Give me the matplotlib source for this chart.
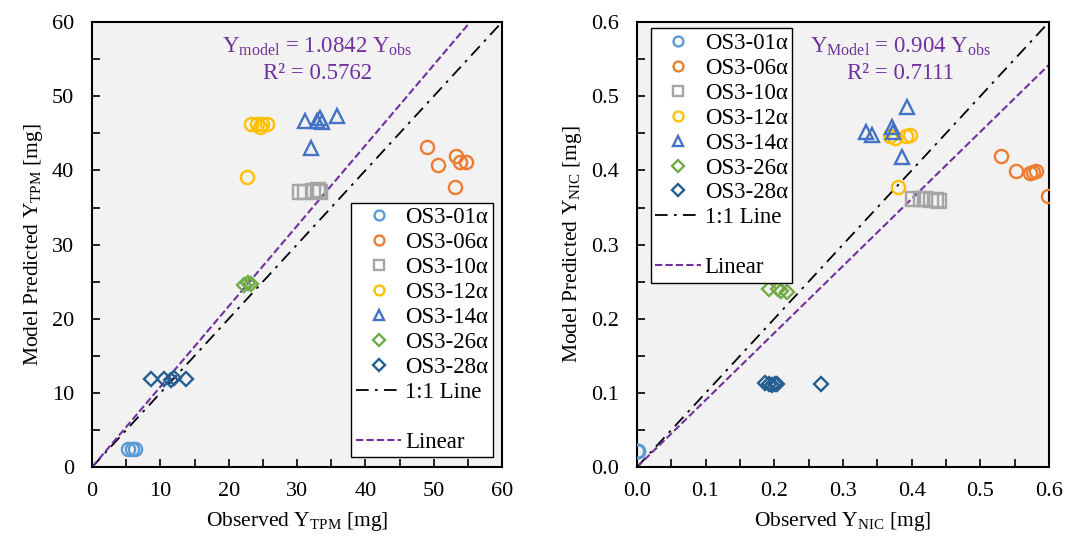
import numpy as np
import matplotlib.pyplot as plt
from matplotlib.lines import Line2D
from matplotlib.ticker import MultipleLocator

plt.rcParams['font.family'] = ['Liberation Serif', 'DejaVu Serif']
plt.rcParams['mathtext.fontset'] = 'custom'
plt.rcParams['mathtext.rm'] = 'Liberation Serif'
plt.rcParams['mathtext.it'] = 'Liberation Serif:italic'

names = ['OS3-01α', 'OS3-06α', 'OS3-10α', 'OS3-12α', 'OS3-14α', 'OS3-26α', 'OS3-28α']
markers = ['o', 'o', 's', 'o', '^', 'D', 'D']
colors = ['#5B9BD5', '#ED7D31', '#A5A5A5', '#FFC000', '#4472C4', '#70AD47', '#255E91']

# TPM panel (observed, predicted)
tpm_obs = [
    [5.3, 5.8, 6.3],
    [49.0, 50.7, 53.2, 53.9, 54.7, 53.1],
    [30.5, 31.2, 32.4, 33.0, 33.4],
    [22.7, 23.3, 24.2, 24.6, 24.9, 25.6],
    [31.2, 32.1, 32.9, 33.4, 33.6, 35.9],
    [22.3, 22.8, 23.2],
    [8.6, 10.6, 11.6, 12.0, 13.8],
]
tpm_pred = [
    [2.5, 2.5, 2.5],
    [43.2, 40.7, 41.9, 41.2, 41.1, 37.8],
    [37.1, 37.1, 37.2, 37.3, 37.1],
    [39.1, 46.2, 46.3, 45.9, 46.2, 46.3],
    [46.6, 43.0, 46.6, 47.1, 46.5, 47.4],
    [24.5, 24.8, 24.7],
    [11.9, 11.9, 11.8, 12.0, 11.9],
]

# NIC panel (observed, predicted)
nic_obs = [
    [0.0, 0.001, 0.002],
    [0.530, 0.552, 0.572, 0.577, 0.581, 0.599],
    [0.402, 0.414, 0.420, 0.428, 0.435, 0.440],
    [0.380, 0.368, 0.376, 0.392, 0.397],
    [0.393, 0.334, 0.342, 0.372, 0.373, 0.386],
    [0.192, 0.206, 0.210, 0.219],
    [0.187, 0.192, 0.197, 0.201, 0.204, 0.268],
]
nic_pred = [
    [0.022, 0.022, 0.022],
    [0.419, 0.399, 0.396, 0.398, 0.399, 0.365],
    [0.361, 0.362, 0.361, 0.360, 0.360, 0.359],
    [0.378, 0.447, 0.444, 0.447, 0.448],
    [0.486, 0.452, 0.448, 0.458, 0.452, 0.418],
    [0.240, 0.240, 0.238, 0.236],
    [0.113, 0.112, 0.111, 0.112, 0.112, 0.112],
]

slopes = [1.0842, 0.904]
r2 = ['0.5762', '0.7111']
eq_sub = ['model', 'Model']
var_sub = ['TPM', 'NIC']
lims = [60, 0.6]
purple = '#7030A0'

fig = plt.figure(figsize=(10.65, 5.37), dpi=100)
ax1 = fig.add_axes([0.0864, 0.130, 0.385, 0.829])
ax2 = fig.add_axes([0.598, 0.130, 0.387, 0.829])

panels = [(ax1, tpm_obs, tpm_pred), (ax2, nic_obs, nic_pred)]
for i, (ax, obs, pred) in enumerate(panels):
    ax.set_facecolor('#F2F2F2')
    lim = lims[i]
    handles = []
    for j in range(len(names)):
        ms = 9.5 if markers[j] != 'D' else 7.5
        h, = ax.plot(obs[j], pred[j], linestyle='none', marker=markers[j], ms=ms,
                     mfc='none', mec=colors[j], mew=1.7, label=names[j], zorder=3)
        handles.append(h)
    xx = np.array([0, lim])
    h11, = ax.plot(xx, xx, color='black', lw=1.3, dashes=(7, 3.5, 1.5, 3.5),
                   label='1:1 Line', zorder=2)
    blank = Line2D([], [], linestyle='none', label=' ')
    hlin, = ax.plot(xx, slopes[i] * xx, color=purple, lw=1.5, dashes=(3.5, 1.5),
                    label='Linear', zorder=2)
    handles += [h11, blank, hlin]

    ax.set_xlim(0, lim)
    ax.set_ylim(0, lim)
    step = lim / 6
    ax.xaxis.set_major_locator(MultipleLocator(step))
    ax.yaxis.set_major_locator(MultipleLocator(step))
    ax.xaxis.set_minor_locator(MultipleLocator(step / 2))
    ax.yaxis.set_minor_locator(MultipleLocator(step / 2))
    ax.tick_params(which='both', direction='in', length=6, width=1.2, labelsize=16,
                   top=False, right=False, pad=13)
    ax.tick_params(axis='x', pad=11)
    if i == 1:
        ax.yaxis.set_major_formatter(plt.FormatStrFormatter('%.1f'))
        ax.xaxis.set_major_formatter(plt.FormatStrFormatter('%.1f'))
    for s in ax.spines.values():
        s.set_linewidth(1.5)

    ax.set_xlabel('Observed Y$_{\\mathrm{%s}}$ [mg]' % var_sub[i], fontsize=15.5, labelpad=6)
    ax.set_ylabel('Model Predicted Y$_{\\mathrm{%s}}$ [mg]' % var_sub[i], fontsize=15.5, labelpad=5)

    eq = 'Y$_{\\mathrm{%s}}$ = %s Y$_{\\mathrm{obs}}$\nR² = %s' % (eq_sub[i], slopes[i], r2[i])
    tx = 0.55 if i == 0 else 0.64
    ax.text(tx, 0.915, eq, transform=ax.transAxes, ha='center', va='center',
            color=purple, fontsize=16.5, linespacing=1.3)

    loc = 'lower right' if i == 0 else 'upper left'
    leg = ax.legend(handles=handles, loc=loc, fontsize=16.5, frameon=True, fancybox=False,
                    edgecolor='black', framealpha=1, handlelength=2.0, handletextpad=0.15,
                    labelspacing=0.17, borderpad=0.2, borderaxespad=0, numpoints=1,
                    markerscale=0.75,
                    bbox_to_anchor=(0.977, 0.022) if i == 0 else (0.034, 0.986))
    leg.get_frame().set_linewidth(1.0)

fig.savefig('out.png', dpi=100)
